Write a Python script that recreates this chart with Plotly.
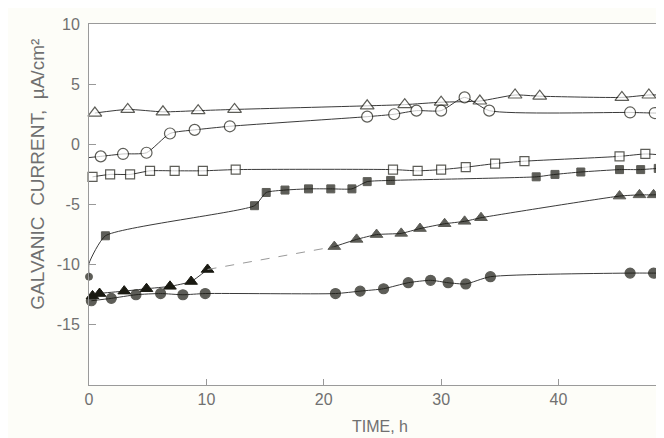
import plotly.graph_objects as go

# Data (time in h, galvanic current in µA/cm²)
tri_open_x = [0.5, 3.3, 6.3, 9.3, 12.4, 23.7, 26.9, 30.0, 33.3, 36.3, 38.4, 45.4, 47.7, 49.1]
tri_open_y = [2.6, 2.9, 2.7, 2.8, 2.9, 3.2, 3.3, 3.5, 3.6, 4.1, 4.0, 3.9, 4.1, 4.1]

circ_open_x = [0.0, 1.0, 2.9, 4.9, 6.9, 9.0, 12.0, 23.7, 26.0, 27.9, 30.0, 32.0, 34.1, 46.1, 48.2, 49.5]
circ_open_y = [-1.1, -1.0, -0.8, -0.7, 0.9, 1.2, 1.5, 2.3, 2.5, 2.8, 2.8, 3.9, 2.8, 2.65, 2.6, 2.6]
circ_open_m = [0, 1, 1, 1, 1, 1, 1, 1, 1, 1, 1, 1, 1, 1, 1, 0]

sq_open_x = [0.3, 1.8, 3.5, 5.2, 7.3, 9.7, 12.5, 25.9, 28.0, 30.0, 32.1, 34.6, 37.1, 45.2, 47.4, 49.0]
sq_open_y = [-2.7, -2.5, -2.5, -2.2, -2.2, -2.2, -2.1, -2.1, -2.2, -2.1, -1.9, -1.6, -1.4, -1.0, -0.8, -0.9]

sq_fill_x = [0.0, 0.0, 1.4, 14.1, 15.1, 16.7, 18.7, 20.6, 22.4, 23.7, 25.7, 38.1, 39.7, 41.9, 45.2, 47.0, 48.5, 49.5]
sq_fill_y = [-11.0, -9.9, -7.6, -5.1, -4.0, -3.8, -3.7, -3.7, -3.7, -3.1, -3.0, -2.7, -2.5, -2.3, -2.1, -2.1, -2.0, -2.0]
sq_fill_m = [2, 0, 1, 1, 1, 1, 1, 1, 1, 1, 1, 1, 1, 1, 1, 1, 1, 0]

tri_fill_x = [0.3, 0.9, 3.0, 4.9, 6.9, 8.7, 10.1, 20.9, 22.8, 24.5, 26.6, 28.2, 30.3, 32.0, 33.4, 45.2, 46.9, 48.1, 49.5]
tri_fill_y = [-12.6, -12.4, -12.2, -12.0, -11.8, -11.4, -10.4, -8.5, -7.9, -7.5, -7.4, -7.0, -6.6, -6.4, -6.1, -4.3, -4.2, -4.2, -4.1]
tri_fill_m = [1, 1, 1, 1, 1, 1, 1, 1, 1, 1, 1, 1, 1, 1, 1, 1, 1, 1, 0]

circ_fill_x = [0.2, 1.9, 4.0, 6.1, 8.0, 9.9, 21.0, 23.1, 25.1, 27.2, 29.1, 30.6, 32.1, 34.2, 46.1, 48.1, 49.0]
circ_fill_y = [-13.0, -12.8, -12.5, -12.4, -12.5, -12.4, -12.4, -12.2, -12.0, -11.5, -11.3, -11.5, -11.6, -11.0, -10.7, -10.7, -10.7]
circ_fill_m = [1, 1, 1, 1, 1, 1, 1, 1, 1, 1, 1, 1, 1, 1, 1, 1, 0]

x_ticks = [0, 10, 20, 30, 40]
x_ticktext = ["0", "10", "20", "30", "40"]
y_ticks = [-15, -10, -5, 0, 5, 10]
y_ticktext = ["-15", "-10", "-5", "0", "5", "10"]

INK = "#1a1a12"
LINE = "#3a3a3a"
PAPER = "#fdfdf8"
TXT = "#707070"
FAM = "Liberation Sans Narrow, Liberation Sans, Arial, sans-serif"

fig = go.Figure()


def add_series(x, y, symbol, size, filled, show=None):
    sizes = [size if (show is None or show[i]) else 0 for i in range(len(x))]
    fig.add_trace(go.Scatter(
        x=x, y=y, mode="lines+markers", cliponaxis=False,
        line=dict(color=LINE, width=1, shape="spline", smoothing=0.6),
        marker=dict(symbol=symbol, size=sizes,
                    color=INK if filled else "white",
                    line=dict(color=INK, width=1.2)),
        showlegend=False, hoverinfo="x+y",
    ))


add_series(tri_open_x, tri_open_y, "triangle-up", 12, False)
add_series(circ_open_x, circ_open_y, "circle", 11, False, circ_open_m)
add_series(sq_open_x, sq_open_y, "square", 9, False)

# filled squares (first point drawn as a dot)
sym = ["circle" if m == 2 else "square" for m in sq_fill_m]
sizes = [0 if m == 0 else (7 if m == 2 else 8) for m in sq_fill_m]
fig.add_trace(go.Scatter(
    x=sq_fill_x, y=sq_fill_y, mode="lines+markers", cliponaxis=False,
    line=dict(color=LINE, width=1, shape="spline", smoothing=0.5),
    marker=dict(symbol=sym, size=sizes, color=INK, line=dict(color=INK, width=1)),
    showlegend=False,
))

# filled triangles: faint dashed gap between 10 h and 21 h
fig.add_trace(go.Scatter(
    x=tri_fill_x[:7], y=tri_fill_y[:7], mode="lines+markers", cliponaxis=False,
    line=dict(color=LINE, width=1, shape="spline", smoothing=0.5),
    marker=dict(symbol="triangle-up", size=11, color=INK, line=dict(color=INK, width=1)),
    showlegend=False,
))
fig.add_trace(go.Scatter(
    x=tri_fill_x[6:8], y=tri_fill_y[6:8], mode="lines",
    line=dict(color="#9a9a9a", width=1, dash="dash"),
    showlegend=False,
))
fig.add_trace(go.Scatter(
    x=tri_fill_x[7:], y=tri_fill_y[7:], mode="lines+markers", cliponaxis=False,
    line=dict(color=LINE, width=1, shape="spline", smoothing=0.5),
    marker=dict(symbol="triangle-up", size=[11 if m else 0 for m in tri_fill_m[7:]],
                color=INK, line=dict(color=INK, width=1)),
    showlegend=False,
))

add_series(circ_fill_x, circ_fill_y, "circle", 10, True, circ_fill_m)

TICKFONT = dict(family=FAM, size=16, color=TXT)

fig.update_layout(
    width=664, height=438,
    margin=dict(l=81, r=2, t=16, b=61),
    paper_bgcolor=PAPER, plot_bgcolor="white",
    font=TICKFONT,
    xaxis=dict(range=[0, 49.5], tickvals=x_ticks, ticktext=x_ticktext,
               ticks="inside", ticklen=6, tickcolor="#999", showgrid=False,
               zeroline=False, showline=True, linecolor="#9a9a9a", linewidth=1,
               mirror=True, tickfont=TICKFONT),
    yaxis=dict(range=[-20, 10], tickvals=y_ticks, ticktext=y_ticktext,
               ticks="inside", ticklen=7, tickcolor="#999", showgrid=False,
               zeroline=False, showline=True, linecolor="#9a9a9a", linewidth=1,
               mirror=True, tickfont=TICKFONT, ticklabelstandoff=5),
    annotations=[
        dict(text="GALVANIC  CURRENT,  µA/cm²", xref="paper", yref="paper",
             x=-0.088, y=0.585, xanchor="center", yanchor="middle",
             textangle=-90, showarrow=False,
             font=dict(family="Liberation Sans, Arial, sans-serif", size=19, color=TXT)),
        dict(text="TIME, h", xref="paper", yref="paper",
             x=0.5, y=-0.115, xanchor="center", yanchor="middle",
             showarrow=False,
             font=dict(family=FAM, size=16, color=TXT)),
    ],
)

fig.write_html("out.html")
